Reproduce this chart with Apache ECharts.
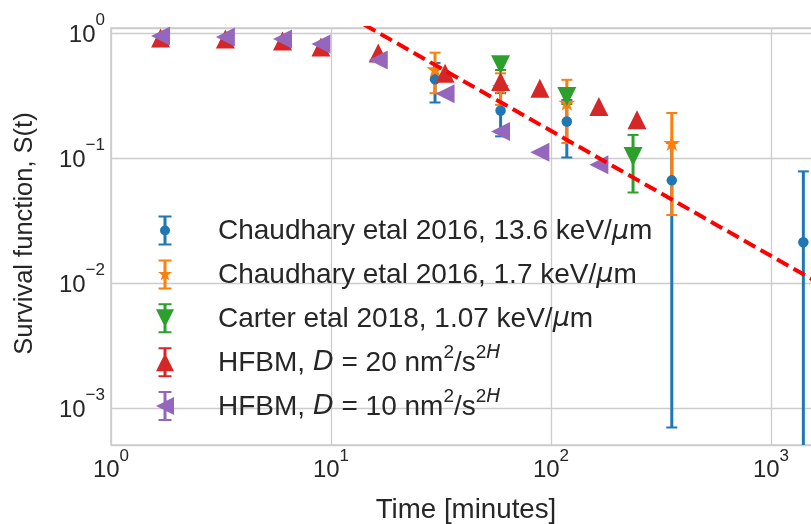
<!DOCTYPE html>
<html><head><meta charset="utf-8">
<script src="https://cdn.jsdelivr.net/npm/echarts@6/dist/echarts.min.js"></script>
<style>html,body{margin:0;padding:0;background:#fff}#c{width:811px;height:524px}</style>
</head><body><div id="c"></div>
<script>
// ---------- data ----------
const seriesNames = [
  'Chaudhary etal 2016, 13.6 keV/um',
  'Chaudhary etal 2016, 1.7 keV/um',
  'Carter etal 2018, 1.07 keV/um',
  'HFBM, D = 20',
  'HFBM, D = 10'
];
const legendLabels = [
  'Chaudhary etal 2016, 13.6 keV/{i|μ}m',
  'Chaudhary etal 2016, 1.7 keV/{i|μ}m',
  'Carter etal 2018, 1.07 keV/{i|μ}m',
  'HFBM, {i|D} = 20 nm{s|2}/s{s|2}{si|H}',
  'HFBM, {i|D} = 10 nm{s|2}/s{s|2}{si|H}'
];
const blueT   = [29.7, 59, 118, 354, 1403];
const blueS   = [0.427, 0.240, 0.196, 0.0663, 0.0212];
const blueErr = [0.149, 0.091, 0.095, 0.0656, 0.057];

const orangeT   = [29.7, 59, 118, 354];
const orangeS   = [0.513, 0.371, 0.277, 0.132];
const orangeErr = [0.183, 0.105, 0.145, 0.097];

const greenT   = [59, 118, 236];
const greenS   = [0.556, 0.310, 0.103];
const greenErr = [0.05, 0.04, 0.05];

const redT = [1.68, 3.31, 6.02, 9.0, 16.4, 33.0, 59.0, 89.0, 165, 246];
const redS = [0.912, 0.896, 0.863, 0.773, 0.692, 0.477, 0.409, 0.362, 0.258, 0.202];

const purpleT = [1.68, 3.31, 6.02, 9.0, 16.4, 33.0, 59.0, 89.0, 165];
const purpleS = [0.946, 0.929, 0.896, 0.817, 0.609, 0.326, 0.163, 0.111, 0.0884];

const fitT = [10, 2000];
const fitS = [1.65, 0.00825];

// ---------- style ----------
const COLORS = ['#1f77b4', '#ff7f0e', '#2ca02c', '#d62728', '#9467bd'];
const TXT = '#262626';
const FONT = '"Liberation Sans", Arial, sans-serif';
const STAR = 'path://M0,-100 L22.45,-30.9 L95.1,-30.9 L36.3,11.8 L58.8,80.9 L0,38.2 L-58.8,80.9 L-36.3,11.8 L-95.1,-30.9 L-22.45,-30.9 Z';

// legend icons in a 20x30 box: error bar + caps + marker
const BAR = 'M0,0 L0,0 Z M20,30 L20,30 Z M8.5,0 L11.5,0 L11.5,30 L8.5,30 Z M3.5,0 L16.5,0 L16.5,2 L3.5,2 Z M3.5,28 L16.5,28 L16.5,30 L3.5,30 Z ';
const ICONS = [
  'path://' + BAR + 'M5,15 A5,5 0 1 1 15,15 A5,5 0 1 1 5,15 Z',
  'path://' + BAR + 'M10,7.5 L11.68,12.68 L17.13,12.68 L12.72,15.89 L14.41,21.07 L10,17.87 L5.59,21.07 L7.28,15.89 L2.87,12.68 L8.32,12.68 Z',
  'path://' + BAR + 'M1,6 L19,6 L10,24 Z',
  'path://' + BAR + 'M10,6 L19,24 L1,24 Z',
  'path://' + BAR + 'M1,15 L19,6 L19,24 Z'
];

function zip(a, b, c) { return a.map((v, i) => c ? [v, b[i], c[i]] : [v, b[i]]); }

function powLabel(v) {
  const p = Math.log10(v);
  const r = Math.round(p);
  if (Math.abs(p - r) > 1e-6) return '';
  return '{b|10}{s|' + (r < 0 ? '\u2212' + (-r) : r) + '}';
}
const tickRich = {
  b: { fontSize: 24, lineHeight: 24, fontFamily: FONT, color: TXT, padding: [11, 0, 0, 0] },
  s: { fontSize: 17, lineHeight: 17, fontFamily: FONT, color: TXT, padding: [0, 0, 18, 0] }
};

function errRender(color) {
  return function (params, api) {
    const t = api.value(0), s = api.value(1), e = api.value(2);
    const cs = params.coordSys;
    const bottomEdge = cs.y + cs.height;
    const top = api.coord([t, s + e]);
    let yb, lowCap = true;
    if (s - e > 0) { yb = api.coord([t, s - e])[1]; }
    else { yb = bottomEdge; lowCap = false; }
    if (yb > bottomEdge) { yb = bottomEdge; lowCap = false; }
    const x = top[0];
    const ch = [
      { type: 'line', shape: { x1: x, y1: top[1], x2: x, y2: yb }, style: { stroke: color, lineWidth: 3 } },
      { type: 'line', shape: { x1: x - 5.5, y1: top[1], x2: x + 5.5, y2: top[1] }, style: { stroke: color, lineWidth: 2 } }
    ];
    if (lowCap) ch.push({ type: 'line', shape: { x1: x - 5.5, y1: yb, x2: x + 5.5, y2: yb }, style: { stroke: color, lineWidth: 2 } });
    return { type: 'group', children: ch };
  };
}

function errSeries(i, t, s, e) {
  return {
    name: seriesNames[i], type: 'custom', z: 2, clip: true,
    itemStyle: { color: COLORS[i] },
    renderItem: errRender(COLORS[i]),
    encode: { x: 0, y: 1 },
    data: zip(t, s, e)
  };
}
function markSeries(i, t, s, symbol, size, rot) {
  return {
    name: seriesNames[i], type: 'scatter', z: 3, clip: true,
    symbol: symbol, symbolSize: size, symbolRotate: rot || 0, symbolKeepAspect: true,
    itemStyle: { color: COLORS[i], opacity: 1 },
    emphasis: { disabled: true },
    data: zip(t, s)
  };
}

const chart = echarts.init(document.getElementById('c'), null, { renderer: 'canvas' });
chart.setOption({
  animation: false,
  backgroundColor: '#ffffff',
  color: COLORS,
  textStyle: { fontFamily: FONT, color: TXT },
  grid: { left: 111, top: 28, width: 710, height: 417, show: true, borderColor: '#cccccc', borderWidth: 1.5, backgroundColor: '#ffffff', containLabel: false, outerBoundsMode: 'none' },
  xAxis: {
    type: 'log', logBase: 10, min: 1, max: Math.pow(10, 710 / 220),
    name: 'Time [minutes]', nameLocation: 'middle', nameGap: 51,
    nameTextStyle: { fontSize: 27.7, color: TXT, fontFamily: FONT },
    axisLine: { show: false }, axisTick: { show: false },
    axisLabel: { formatter: powLabel, rich: tickRich, margin: 8, color: TXT, fontSize: 24, showMinLabel: true, showMaxLabel: false },
    splitLine: { show: true, lineStyle: { color: '#cccccc', width: 1.3 } },
    minorTick: { show: false }, minorSplitLine: { show: false }
  },
  yAxis: {
    type: 'log', logBase: 10, min: 5.07e-4, max: 1.096,
    name: 'Survival function, S(t)', nameLocation: 'middle', nameGap: 73,
    nameTextStyle: { fontSize: 25.5, color: TXT, fontFamily: FONT, padding: [0, 0, 0, 6] },
    axisLine: { show: false }, axisTick: { show: false },
    axisLabel: { formatter: powLabel, rich: tickRich, margin: 6, color: TXT, fontSize: 24, padding: [0, 0, 7, 0], showMinLabel: false, showMaxLabel: false },
    splitLine: { show: true, lineStyle: { color: '#cccccc', width: 1.3 } }
  },
  legend: {
    orient: 'vertical', left: 155, top: 211.5, padding: 0,
    itemWidth: 20, itemHeight: 30, itemGap: 9.9,
    selectedMode: false,
    data: seriesNames.map((n, i) => ({ name: n, icon: ICONS[i], itemStyle: { color: COLORS[i] } })),
    formatter: function (name) { return legendLabels[seriesNames.indexOf(name)].replace(/^([^{]*)/, '{b|$1}').replace(/\}([^{}]+)\{/g, '}{b|$1}{').replace(/\}([^{}]+)$/, '}{b|$1}'); },
    textStyle: {
      fontSize: 28, color: TXT, fontFamily: FONT, padding: [0, 0, 4, 38],
      rich: {
        b: { fontSize: 28, lineHeight: 28, fontFamily: FONT, color: TXT, padding: [6, 0, 0, 0] },
        i: { fontSize: 27, lineHeight: 28, fontFamily: '"DejaVu Sans"', fontStyle: 'italic', color: TXT, padding: [6, 0, 0, 0] },
        s: { fontSize: 19, lineHeight: 19, fontFamily: FONT, color: TXT, padding: [0, 0, 15, 0] },
        si: { fontSize: 19, lineHeight: 19, fontFamily: '"DejaVu Sans"', fontStyle: 'italic', color: TXT, padding: [0, 0, 15, 0] }
      }
    }
  },
  series: [
    errSeries(0, blueT, blueS, blueErr),
    errSeries(1, orangeT, orangeS, orangeErr),
    errSeries(2, greenT, greenS, greenErr),
    markSeries(0, blueT, blueS, 'circle', 10.5),
    markSeries(1, orangeT, orangeS, STAR, 17),
    markSeries(2, greenT, greenS, 'triangle', 19, 180),
    markSeries(3, redT, redS, 'triangle', 19),
    markSeries(4, purpleT, purpleS, 'triangle', 19, 90),
    {
      name: 'fit', type: 'line', z: 5, clip: true, symbol: 'none', silent: true,
      lineStyle: { color: '#ff0000', width: 4, type: [13, 6] },
      data: zip(fitT, fitS)
    }
  ]
});
</script>
</body></html>
